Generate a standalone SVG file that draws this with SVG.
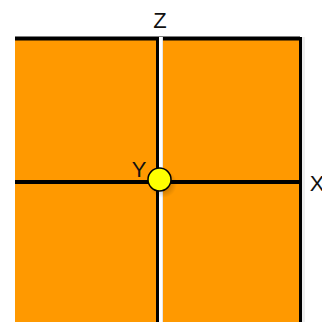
<svg xmlns="http://www.w3.org/2000/svg" width="322" height="322" viewBox="0 0 322 322">
<defs>
<style>
.lbl{font-family:"Liberation Sans","DejaVu Sans",sans-serif;font-size:22px;fill:#111}
</style>
<radialGradient id="sh" cx="0.5" cy="0.5" r="0.5">
<stop offset="0" stop-color="#000" stop-opacity="0.35"/>
<stop offset="1" stop-color="#000" stop-opacity="0"/>
</radialGradient>
</defs>
<rect width="322" height="322" fill="#fff"/>
<g id="plane">
<rect x="15" y="38" width="286" height="284" fill="#FF9900"/>
</g>
<g id="connectors">
<line x1="15" y1="38.5" x2="300" y2="38.5" stroke="#000" stroke-width="4"/>
<line x1="300.5" y1="37" x2="300.5" y2="322" stroke="#000" stroke-width="3"/>
<line x1="303.5" y1="37" x2="303.5" y2="322" stroke="#eeeeee" stroke-width="3"/>
<line x1="15" y1="182" x2="300" y2="182" stroke="#000" stroke-width="4"/>
<line x1="157.5" y1="37" x2="157.5" y2="322" stroke="#000" stroke-width="3"/>
<line x1="160.5" y1="37" x2="160.5" y2="322" stroke="#fff" stroke-width="3"/>
<line x1="162.5" y1="37" x2="162.5" y2="322" stroke="#e6e6e6" stroke-width="1"/>
</g>
<g id="point">
<circle cx="163" cy="184" r="14" fill="url(#sh)"/>
<circle cx="159.5" cy="179.5" r="11.5" fill="#FFFF00" stroke="#000" stroke-width="1.5"/>
</g>
<g id="labels">
<text class="lbl" x="160" y="28" text-anchor="middle">Z</text>
<text class="lbl" x="139" y="177" text-anchor="middle">Y</text>
<text class="lbl" x="317" y="191" text-anchor="middle">X</text>
</g>
</svg>
